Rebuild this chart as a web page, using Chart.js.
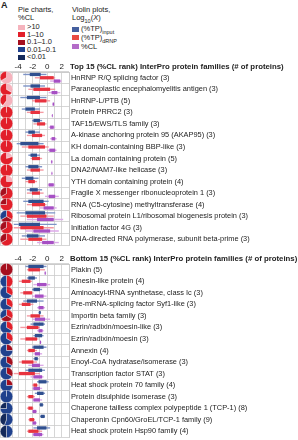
<!DOCTYPE html>
<html>
<head>
<meta charset="utf-8">
<script src="https://cdn.jsdelivr.net/npm/chart.js@4.4.1/dist/chart.umd.min.js"></script>
<style>
  body { margin: 0; width: 298px; height: 440px; position: relative; overflow: hidden; background: #fff;
         font-family: "Liberation Sans", Arial, sans-serif; color: #222; }
  .t { position: absolute; font-size: 7.5px; line-height: 8px; white-space: nowrap; }
  .t sub { font-size: 5.5px; line-height: 0; }
  .hd { font-weight: bold; font-size: 7.8px; }
  .sq { position: absolute; width: 7px; height: 5px; }
  canvas { position: absolute; }
</style>
</head>
<body>

<div class="t" style="left:1px;top:1px;font-weight:bold;font-size:9px">A</div>
<div class="t" style="left:18px;top:6px">Pie charts,</div>
<div class="t" style="left:18px;top:13.5px">%CL</div>
<div id="pieLegend"></div>

<div class="t" style="left:72px;top:6px">Violin plots,</div>
<div class="t" style="left:72px;top:14px">Log<sub>10</sub>(<i>X</i>)</div>
<div id="violinLegend"></div>

<canvas id="topChart" width="298" height="188" style="left:0;top:59px"></canvas>
<canvas id="bottomChart" width="298" height="188" style="left:0;top:251px"></canvas>
<div class="t hd" style="left:70px;top:63px">Top 15 (%CL rank) InterPro protein families (# of proteins)</div>
<div class="t hd" style="left:70px;top:255px">Bottom 15 (%CL rank) InterPro protein families (# of proteins)</div>
<div id="pies"></div>

<script>
// ---- data ----
const pieBins = [">10", "1–10", "0.1–1.0", "0.01–0.1", "<0.01"];
const pieColors = ["#f5b3bd", "#e21f2a", "#a50f1e", "#1f418d", "#14295a"];

const topNames = [
  "HnRNP R/Q splicing factor (3)", "Paraneoplastic encephalomyelitis antigen (3)", "HnRNP-L/PTB (5)",
  "Protein PRRC2 (3)", "TAF15/EWS/TLS family (3)", "A-kinase anchoring protein 95 (AKAP95) (3)",
  "KH domain-containing BBP-like (3)", "La domain containing protein (5)", "DNA2/NAM7-like helicase (3)",
  "YTH domain containing protein (4)", "Fragile X messenger ribonucleoprotein 1 (3)",
  "RNA (C5-cytosine) methyltransferase (4)", "Ribosomal protein L1/ribosomal biogenesis protein (3)",
  "Initiation factor 4G (3)", "DNA-directed RNA polymerase, subunit beta-prime (3)"
];
const bottomNames = [
  "Plakin (5)", "Kinesin-like protein (4)", "Aminoacyl-tRNA synthetase, class Ic (3)",
  "Pre-mRNA-splicing factor Syf1-like (3)", "Importin beta family (3)", "Ezrin/radixin/moesin-like (3)",
  "Ezrin/radixin/moesin (3)", "Annexin (4)", "Enoyl-CoA hydratase/isomerase (3)",
  "Transcription factor STAT (3)", "Heat shock protein 70 family (4)", "Protein disulphide isomerase (3)",
  "Chaperone tailless complex polypeptide 1 (TCP-1) (8)", "Chaperonin Cpn60/GroEL/TCP-1 family (9)",
  "Heat shock protein Hsp90 family (4)"
];

// proteins per %CL bin (pie slices)
const topPies = [
  [2,1,0,0,0],[1,2,0,0,0],[3,2,0,0,0],[0,3,0,0,0],[0,3,0,0,0],[0,3,0,0,0],[0,3,0,0,0],[1,4,0,0,0],
  [0,3,0,0,0],[1,3,0,0,0],[0,2,1,0,0],[0,3,1,0,0],[0,1,1,1,0],[0,2,1,0,0],[0,2,1,0,0]
];
const bottomPies = [
  [0,0,5,0,0],[0,2,0,2,0],[0,1,0,2,0],[0,1,0,2,0],[0,1,1,1,0],[0,1,0,2,0],[0,1,0,2,0],[0,0,1,3,0],
  [0,0,1,2,0],[0,0,1,2,0],[0,0,1,3,0],[0,0,0,3,0],[0,0,0,6,2],[0,0,0,5,4],[0,0,0,2,2]
];

// log10 ranges: full extent and inner (box) extent
const topInputRange = [[-3.3,-0.1],[-3.3,-0.3],[-3.7,-0.1],[-3.5,-1.0],[-2.1,-0.7],[-3.0,-1.0],[-4.2,-0.5],[-2.6,-1.0],
  [-3.0,-0.7],[-3.5,-1.2],[-2.8,-0.7],[-3.3,0.2],[-4.2,1.1],[-4.6,1.3],[-3.5,-0.3]];
const topInputBox = [[-2.4,-0.9],[-2.3,-1.0],[-2.8,-1.0],[-3.0,-1.7],[-1.9,-1.0],[-2.6,-1.7],[-3.7,-1.2],[-2.3,-1.4],
  [-2.6,-1.2],[-3.0,-1.9],[-2.4,-1.3],[-2.6,-0.5],[-3.0,-0.3],[-3.9,-1.0],[-2.8,-1.2]];
const topDrnpRange = [[-1.7,1.1],[-2.6,1.1],[-2.1,0.4],[-2.8,-0.5],[-1.9,-0.1],[-2.8,-0.3],[-3.5,0.2],[-2.3,-0.7],
  [-2.8,-0.5],[-3.0,-1.4],[-2.8,-0.5],[-2.8,-0.1],[-3.7,0.9],[-4.6,0.9],[-3.7,-0.1]];
const topDrnpBox = [[-1.0,0.9],[-1.9,0.4],[-1.7,-0.1],[-2.3,-1.0],[-1.4,-0.3],[-2.1,-0.7],[-2.6,-0.3],[-2.1,-1.0],
  [-2.3,-1.0],[-2.6,-1.7],[-2.1,-1.0],[-2.1,-0.3],[-2.8,-0.1],[-3.7,-0.5],[-2.6,-0.7]];
const topClRange = [[0.4,2.0],[0.2,1.8],[0.7,1.0],[0.6,0.8],[0.2,1.1],[0.4,1.3],[0.0,1.3],[0.5,0.75],
  [0.55,0.75],[0.0,1.1],[-0.3,1.6],[-1.0,1.3],[-2.8,2.2],[-3.0,1.6],[-1.4,1.6]];
const topClBox = [[0.9,1.8],[0.6,1.4],[0.75,0.95],[0.65,0.75],[0.4,0.9],[0.6,1.1],[0.3,1.1],[0.55,0.7],
  [0.6,0.7],[0.2,0.9],[0.2,1.1],[-0.5,0.9],[-1.4,0.9],[-1.9,0.4],[-0.7,0.9]];

const bottomInputRange = [[-3.0,-0.1],[-2.8,-1.4],[-2.1,-0.7],[-3.3,-0.5],[-1.2,-0.85],[-2.3,-0.3],[-1.9,-0.5],[-2.1,-0.1],
  [-1.9,-1.2],[-3.0,-0.3],[-1.4,0.2],[-1.7,-0.3],[-1.1,-0.5],[-1.0,-0.3],[-1.9,0.4]];
const bottomInputBox = [[-2.6,-0.5],[-2.6,-1.7],[-1.9,-1.0],[-2.8,-1.4],[-1.15,-0.9],[-1.9,-0.5],[-1.7,-0.7],[-1.9,-0.5],
  [-1.75,-1.3],[-2.6,-0.7],[-1.2,-0.1],[-1.4,-0.5],[-1.0,-0.6],[-0.9,-0.35],[-1.4,-0.1]];
const bottomDrnpRange = [[-2.8,-0.3],[-3.9,-2.1],[-3.7,-1.9],[-3.9,-1.9],[-2.8,-0.5],[-3.7,-1.0],[-3.7,-1.2],[-2.8,-1.4],
  [-3.9,-1.4],[-4.6,-1.0],[-2.1,-1.2],[-2.8,-1.7],[-2.8,-1.9],[-2.6,-1.7],[-2.8,-0.7]];
const bottomDrnpBox = [[-2.6,-1.0],[-3.5,-2.3],[-3.3,-2.1],[-3.5,-2.3],[-2.3,-1.0],[-2.8,-1.2],[-3.0,-1.4],[-2.6,-1.7],
  [-3.5,-1.9],[-3.9,-1.7],[-1.9,-1.4],[-2.6,-1.9],[-2.6,-2.0],[-2.45,-1.8],[-2.6,-1.2]];
const bottomClRange = [[-0.4,-0.15],[-1.9,0.4],[-2.1,-0.1],[-1.4,-0.3],[-2.1,0.4],[-1.4,-0.5],[-1.05,-0.8],[-1.9,-0.7],
  [-2.6,-0.5],[-2.3,-0.5],[-2.1,-0.7],[-2.1,-0.7],[-2.1,-1.4],[-2.1,-1.4],[-2.1,-0.5]];
const bottomClBox = [[-0.35,-0.2],[-1.4,-0.1],[-1.7,-0.5],[-1.2,-0.5],[-1.7,-0.3],[-1.2,-0.65],[-1.0,-0.85],[-1.7,-1.0],
  [-2.1,-1.0],[-1.9,-0.7],[-1.9,-1.0],[-1.9,-1.0],[-2.0,-1.5],[-2.0,-1.55],[-1.9,-0.7]];

const seriesNames = ["(%TP)input", "(%TP)dRNP", "%CL"];
const xTicks = [-6.5, -4.75, -4, -3, -2, -1, 0, 1, 2, 3];
const xLabels = [-4, -2, 0, 2];

// ---- styles ----
const boxColors = ["#2f4f8f", "#e8333f", "#a64fc4"];
const rangeColors = ["#7d93c6", "#f49aa2", "#dcaae8"];
const legendColors = ["#45609f", "#e94b42", "#b46cc8"];
const gridColor = "#cbcbcb";

Chart.defaults.font.family = '"Liberation Sans", Arial, sans-serif';
Chart.defaults.color = "#222";

// legends (plain html)
document.getElementById("pieLegend").innerHTML = pieBins.map((b, i) => {
  const cy = 27 + i * 7.5;
  return `<div class="sq" style="left:18px;top:${cy - 2.5}px;background:${pieColors[i]}"></div>` +
         `<div class="t" style="left:27px;top:${cy - 4}px">${b}</div>`;
}).join("");
document.getElementById("violinLegend").innerHTML = seriesNames.map((s, i) => {
  const cy = 29 + i * 8.8;
  const txt = s.replace("input", "<sub>input</sub>").replace("dRNP", "<sub>dRNP</sub>");
  return `<div class="sq" style="left:72px;top:${cy - 2.5}px;background:${legendColors[i]}"></div>` +
         `<div class="t" style="left:81px;top:${cy - 4}px">${txt}</div>`;
}).join("");

function makePanel(canvasId, panelTop, names, pies, ranges, boxes) {
  const datasets = [];
  boxes.forEach((b, i) => datasets.push({
    data: b, stack: "s" + i, backgroundColor: boxColors[i], barPercentage: 1, categoryPercentage: 0.86,
    borderWidth: 0, borderSkipped: false
  }));
  ranges.forEach((r, i) => datasets.push({
    data: r, stack: "s" + i, backgroundColor: rangeColors[i], barPercentage: 0.42, categoryPercentage: 0.86,
    borderWidth: 0, borderSkipped: false
  }));

  const chart = new Chart(document.getElementById(canvasId), {
    type: "bar",
    data: { labels: names, datasets },
    options: {
      indexAxis: "y",
      responsive: false,
      animation: false,
      events: [],
      layout: { padding: { left: 0, right: 0, top: 0, bottom: 2 } },
      plugins: { legend: { display: false }, tooltip: { enabled: false } },
      scales: {
        x: {
          position: "top", min: -6.5, max: 3, stacked: false,
          afterBuildTicks: s => { s.ticks = xTicks.map(v => ({ value: v })); },
          afterFit: s => { s.height = 13; s.paddingLeft = 0; s.paddingRight = 0; },
          ticks: {
            autoSkip: false, maxRotation: 0, padding: 0, font: { size: 8 },
            callback: v => xLabels.includes(v) ? String(v) : ""
          },
          grid: { color: gridColor, lineWidth: 0.8, drawTicks: false },
          border: { color: gridColor }
        },
        y: {
          position: "right",
          afterFit: s => { s.width = 229; s.paddingTop = 0; s.paddingBottom = 0; },
          ticks: { autoSkip: false, padding: 2, font: { size: 7.4 } },
          grid: { color: gridColor, lineWidth: 0.8, drawTicks: false, offset: true },
          border: { color: gridColor }
        }
      }
    }
  });

  // pies sit in the left column, one per row
  const holder = document.getElementById("pies");
  pies.forEach((counts, i) => {
    const cy = chart.scales.y.getPixelForValue(i) + panelTop;
    const c = document.createElement("canvas");
    c.width = 13; c.height = 13;
    c.style.left = "0px";
    c.style.top = (cy - 6.5) + "px";
    holder.appendChild(c);
    new Chart(c, {
      type: "pie",
      data: {
        labels: pieBins,
        datasets: [{
          data: counts,
          backgroundColor: pieColors,
          borderColor: "#ffffff",
          borderWidth: ctx => ctx.raw ? 0.4 : 0
        }]
      },
      options: {
        responsive: false, animation: false, events: [],
        plugins: { legend: { display: false }, tooltip: { enabled: false } }
      }
    });
  });
  return chart;
}

makePanel("topChart", 59, topNames, topPies,
  [topInputRange, topDrnpRange, topClRange], [topInputBox, topDrnpBox, topClBox]);
makePanel("bottomChart", 251, bottomNames, bottomPies,
  [bottomInputRange, bottomDrnpRange, bottomClRange], [bottomInputBox, bottomDrnpBox, bottomClBox]);
</script>
</body>
</html>
